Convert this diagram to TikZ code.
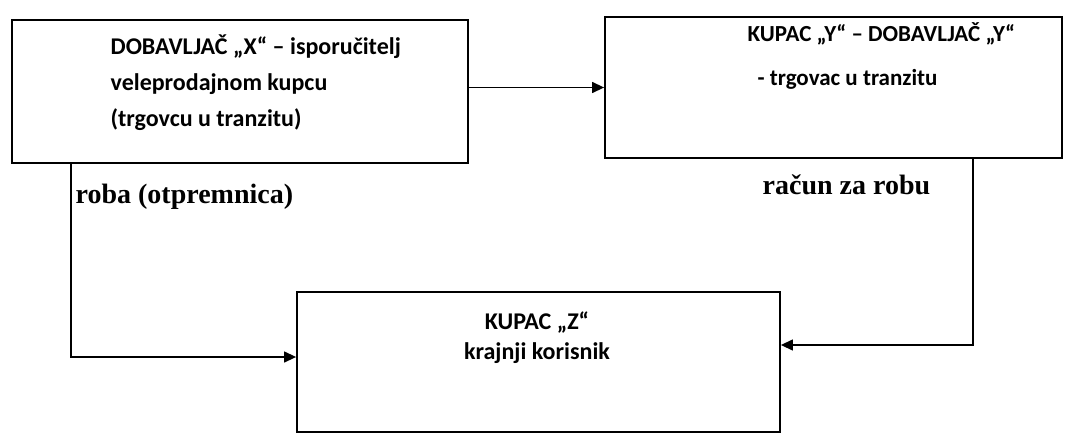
\documentclass[tikz,border=0pt]{standalone}
\usepackage{fontspec}
\setmainfont{Liberation Serif}
\newfontfamily\boxfont{Carlito}
\usepackage{tikz}
\usetikzlibrary{arrows.meta,positioning}

\begin{document}
\begin{tikzpicture}[x=1pt,y=-1pt,->,>={Triangle[length=12pt,width=11pt]},line width=1.3pt,
  party/.style={draw,rectangle,line width=1.8pt,inner sep=0pt},
  boxtext/.style={font=\boxfont\bfseries\fontsize{24}{36}\selectfont,inner sep=0pt},
  flow/.style={font=\bfseries\fontsize{28}{30}\selectfont,inner sep=0pt}]

\useasboundingbox (0,0) rectangle (1075,436);

\node[party, minimum width=456pt, minimum height=143pt] (X) at (240,91.5) {};
\node[party, minimum width=457pt, minimum height=141pt] (Y) at (833.5,87.5) {};
\node[party, minimum width=483pt, minimum height=140pt] (Z) at (538.5,362) {};

\node[boxtext, align=left, anchor=north west] (Xt) at (110,34)
  {DOBAVLJAČ „X“ – isporučitelj\\ veleprodajnom kupcu\\ (trgovcu u tranzitu)};
\node[boxtext, align=left, anchor=north west, font=\boxfont\bfseries\fontsize{23}{44}\selectfont] (Yt) at (747,22)
  {KUPAC „Y“ – DOBAVLJAČ „Y“\\ \hspace{10pt}- trgovac u tranzitu};
\node[boxtext, align=center, anchor=north, font=\boxfont\bfseries\fontsize{24}{30}\selectfont] (Zt) at (537,311)
  {KUPAC „Z“\\ krajnji korisnik};

\node[flow, anchor=west] (roba) at (75,197) {roba (otpremnica)};
\node[flow, anchor=west] (racun) at (762,185) {račun za robu};

\draw (X.east |- Y.west) -- (Y.west);
\draw ([xshift=60pt]X.south west) |- ([yshift=5pt]Z.west);
\draw ([xshift=-90pt]Y.south east) |- ([yshift=17pt]Z.east);

\end{tikzpicture}
\end{document}
